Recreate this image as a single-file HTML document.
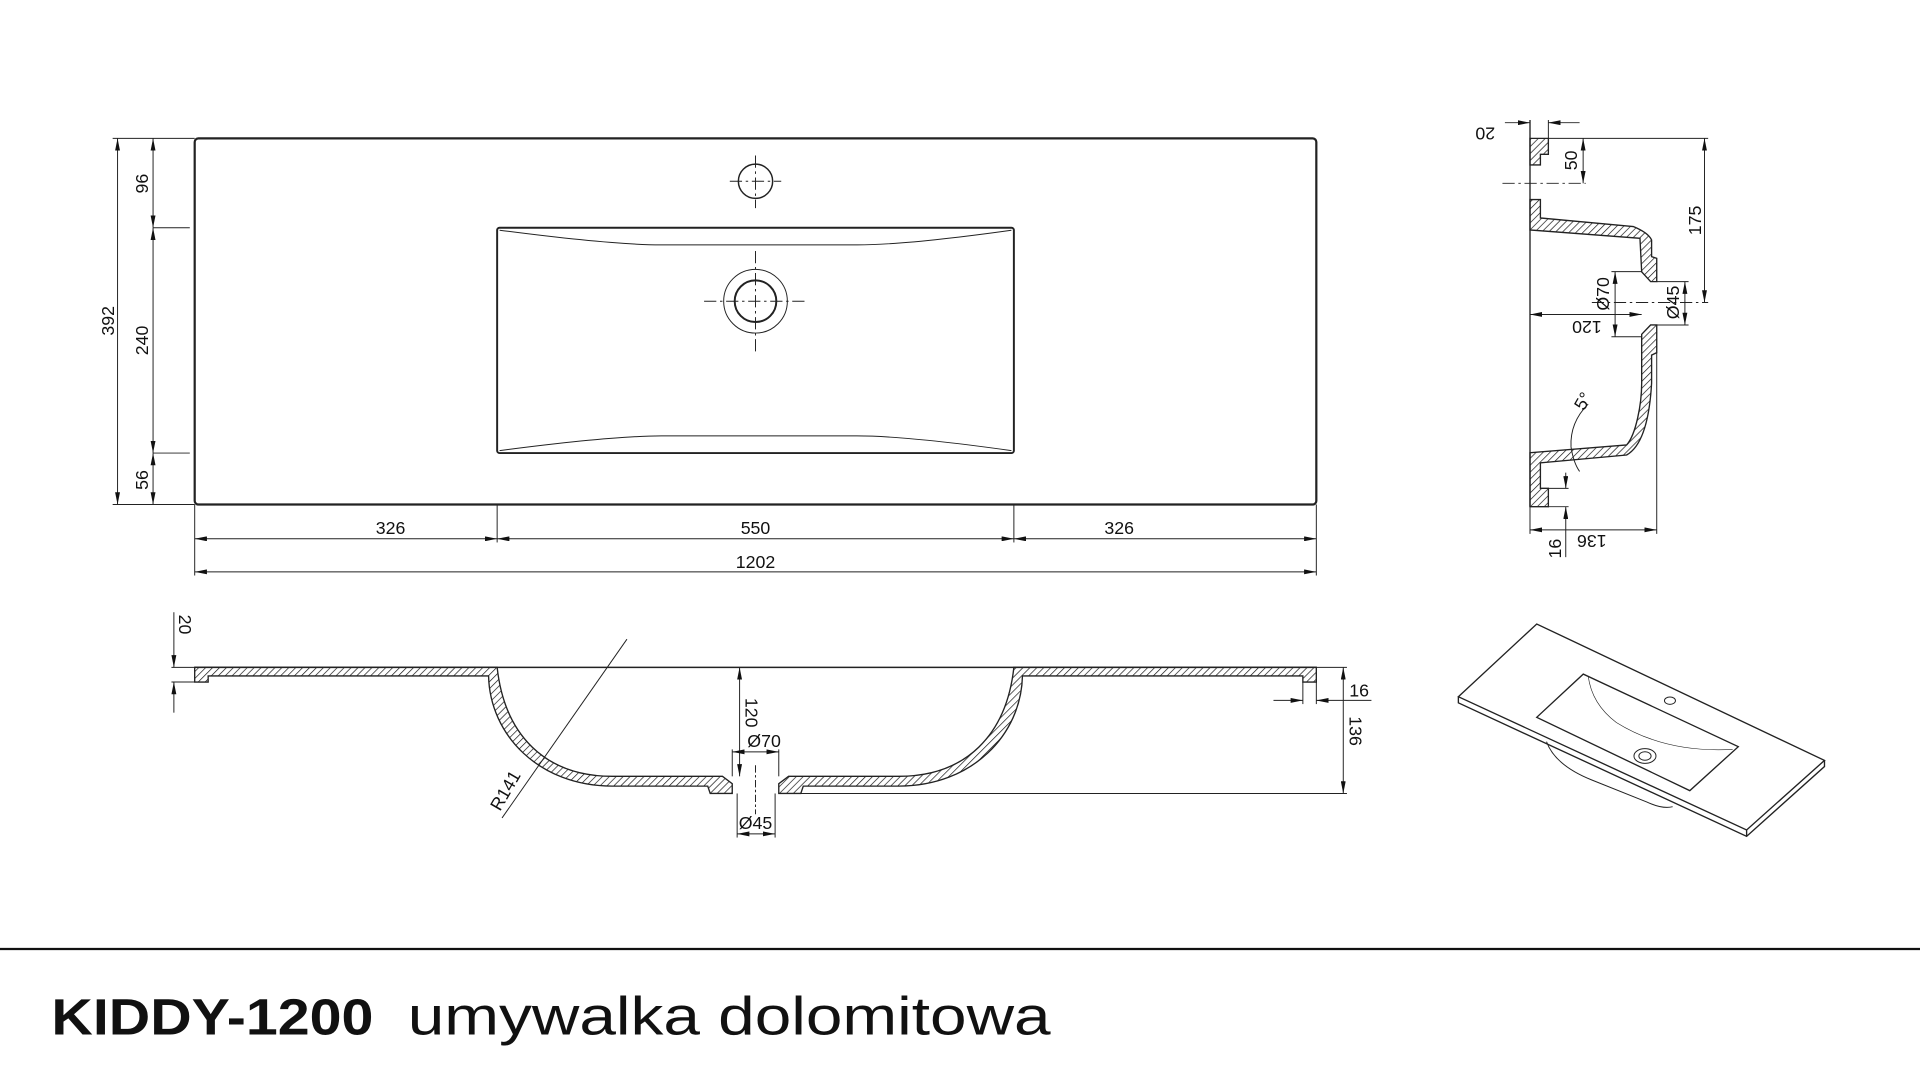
<!DOCTYPE html>
<html><head><meta charset="utf-8"><style>
html,body{margin:0;padding:0;background:#fff;overflow:hidden}
svg{display:block}
text{font-family:"Liberation Sans",sans-serif;fill:#111}
</style></head><body>
<svg width="1920" height="1080" viewBox="0 0 1568 882" xmlns="http://www.w3.org/2000/svg">
<defs>
<pattern id="h" patternUnits="userSpaceOnUse" width="4" height="4" patternTransform="rotate(45)">
<rect width="4" height="4" fill="#fff"/><line x1="0" y1="0" x2="0" y2="4" stroke="#111" stroke-width="1.1"/></pattern>
<marker id="a" viewBox="0 0 10 4" refX="10" refY="2" markerWidth="10" markerHeight="4" orient="auto-start-reverse" markerUnits="userSpaceOnUse"><path d="M0,0 L10,2 L0,4z" fill="#111"/></marker>
</defs>
<g fill="none" stroke="#222" stroke-width="0.8">
<!-- top view -->
<rect x="159" y="113" width="916" height="299" rx="3" stroke-width="1.8"/>
<rect x="406" y="186" width="422" height="184" rx="2" stroke-width="1.6"/>
<path d="M408,188 Q500,200 540,200 L700,200 Q740,200 826,188"/>
<path d="M408,368 Q500,356 540,356 L700,356 Q740,356 826,368"/>
<circle cx="617" cy="148" r="14" stroke-width="1.2"/>
<circle cx="617" cy="246" r="26"/>
<circle cx="617" cy="246" r="17" stroke-width="1.6"/>
<g stroke-dasharray="10,3,2,3">
<line x1="617" y1="127" x2="617" y2="170"/><line x1="596" y1="148" x2="638" y2="148"/>
<line x1="617" y1="205" x2="617" y2="288"/><line x1="575" y1="246" x2="659" y2="246"/>
</g>
<!-- left dims -->
<line x1="92" y1="113" x2="159" y2="113"/><line x1="92" y1="412" x2="159" y2="412"/>
<line x1="125" y1="186" x2="155" y2="186"/><line x1="125" y1="370" x2="155" y2="370"/>
<line x1="96" y1="113" x2="96" y2="412" marker-start="url(#a)" marker-end="url(#a)"/>
<line x1="125" y1="113" x2="125" y2="186" marker-start="url(#a)" marker-end="url(#a)"/>
<line x1="125" y1="186" x2="125" y2="370" marker-start="url(#a)" marker-end="url(#a)"/>
<line x1="125" y1="370" x2="125" y2="412" marker-start="url(#a)" marker-end="url(#a)"/>
<!-- bottom dims -->
<line x1="159" y1="412" x2="159" y2="470"/><line x1="1075" y1="412" x2="1075" y2="470"/>
<line x1="406" y1="412" x2="406" y2="443"/><line x1="828" y1="412" x2="828" y2="443"/>
<line x1="159" y1="440" x2="406" y2="440" marker-start="url(#a)" marker-end="url(#a)"/>
<line x1="406" y1="440" x2="828" y2="440" marker-start="url(#a)" marker-end="url(#a)"/>
<line x1="828" y1="440" x2="1075" y2="440" marker-start="url(#a)" marker-end="url(#a)"/>
<line x1="159" y1="467" x2="1075" y2="467" marker-start="url(#a)" marker-end="url(#a)"/>

<!-- front section -->
<path fill="url(#h)" stroke-width="1.1" d="M159,545 L406,545 C412,600 445,634 500,634 L590,634 L598,640 L598,648 L580,648 L578,642 L500,642 C440,642 400,600 399,552 L170,552 L170,557 L159,557 Z"/>
<path fill="url(#h)" stroke-width="1.1" d="M1075,545 L828,545 C822,600 789,634 734,634 L644,634 L636,640 L636,648 L654,648 L656,642 L734,642 C794,642 834,600 835,552 L1064,552 L1064,557 L1075,557 Z"/>
<line x1="159" y1="545" x2="1075" y2="545" stroke-width="1.2"/>
<line x1="654" y1="648" x2="1100" y2="648"/>
<line x1="1075" y1="545" x2="1100" y2="545"/>
<line x1="1097" y1="545" x2="1097" y2="648" marker-start="url(#a)" marker-end="url(#a)"/>
<line x1="1064" y1="557" x2="1064" y2="575"/><line x1="1075" y1="557" x2="1075" y2="575"/>
<line x1="1040" y1="572" x2="1064" y2="572" marker-end="url(#a)"/>
<line x1="1120" y1="572" x2="1075" y2="572" marker-end="url(#a)"/>
<line x1="140" y1="545" x2="159" y2="545"/><line x1="140" y1="557" x2="159" y2="557"/>
<line x1="142" y1="500" x2="142" y2="545" marker-end="url(#a)"/>
<line x1="142" y1="582" x2="142" y2="557" marker-end="url(#a)"/>
<line x1="604" y1="545" x2="604" y2="634" marker-start="url(#a)" marker-end="url(#a)"/>
<line x1="598" y1="612" x2="598" y2="634"/><line x1="636" y1="612" x2="636" y2="634"/>
<line x1="598" y1="614" x2="636" y2="614" marker-start="url(#a)" marker-end="url(#a)"/>
<line x1="602" y1="648" x2="602" y2="684"/><line x1="633" y1="648" x2="633" y2="684"/>
<line x1="602" y1="681" x2="633" y2="681" marker-start="url(#a)" marker-end="url(#a)"/>
<line x1="617" y1="625" x2="617" y2="665" stroke-dasharray="6,2,2,2"/>
<line x1="512" y1="522" x2="410" y2="668"/>

<!-- side section -->
<path fill="url(#h)" stroke-width="1.1" d="M1249.5,113 L1264.5,113 L1264.5,126 L1258,126 L1258,134.7 L1249.5,134.7 Z"/>
<path fill="url(#h)" stroke-width="1.1" d="M1249.5,163 L1258,163 L1258,178 L1333.8,185 Q1346,190 1348.8,196 L1348.8,209.6 L1353,211 L1353,230 L1348,230 L1340.7,222 L1339.3,194.6 L1249.5,187.8 Z"/>
<path fill="url(#h)" stroke-width="1.1" d="M1340.7,273 L1348,265.4 L1353,265.4 L1353,288 L1348.8,290 L1348.8,313 C1347,345 1340,365 1328.4,371.6 L1258,378 L1258,398.8 L1264.5,398.8 L1264.5,413.8 L1249.5,413.8 L1249.5,369.7 L1328.4,363.4 C1336,355 1340.7,330 1340.7,313 Z"/>
<line x1="1249.5" y1="98" x2="1249.5" y2="413.8" stroke-width="1.1"/>
<line x1="1264.5" y1="98" x2="1264.5" y2="113"/>
<line x1="1229" y1="100.2" x2="1249.5" y2="100.2" marker-end="url(#a)"/>
<line x1="1290" y1="100.2" x2="1264.5" y2="100.2" marker-end="url(#a)"/>
<line x1="1264.5" y1="113" x2="1395" y2="113"/>
<line x1="1292.9" y1="113" x2="1292.9" y2="149.7" marker-start="url(#a)" marker-end="url(#a)"/>
<line x1="1227" y1="149.7" x2="1295" y2="149.7" stroke-dasharray="10,3,2,3"/>
<line x1="1392" y1="113" x2="1392" y2="247" marker-start="url(#a)" marker-end="url(#a)"/>
<line x1="1300" y1="247" x2="1395" y2="247" stroke-dasharray="10,3,2,3"/>
<line x1="1316" y1="221.8" x2="1340.7" y2="221.8"/><line x1="1316" y1="275" x2="1340.7" y2="275"/>
<line x1="1319" y1="221.8" x2="1319" y2="275" marker-start="url(#a)" marker-end="url(#a)"/>
<line x1="1353" y1="230" x2="1379" y2="230"/><line x1="1353" y1="265.4" x2="1379" y2="265.4"/>
<line x1="1376" y1="230" x2="1376" y2="265.4" marker-start="url(#a)" marker-end="url(#a)"/>
<line x1="1249.5" y1="256.8" x2="1340.7" y2="256.8" marker-start="url(#a)" marker-end="url(#a)"/>
<path d="M1297,330 Q1282,345 1283,365 Q1285,378 1290,385"/>
<line x1="1278.7" y1="386" x2="1278.7" y2="398.8" marker-end="url(#a)"/>
<line x1="1278.7" y1="455" x2="1278.7" y2="413.8" marker-end="url(#a)"/>
<line x1="1264.5" y1="398.8" x2="1281" y2="398.8"/><line x1="1264.5" y1="413.8" x2="1281" y2="413.8"/>
<line x1="1249.5" y1="413.8" x2="1249.5" y2="436"/>
<line x1="1353" y1="288" x2="1353" y2="436"/>
<line x1="1249.5" y1="432.7" x2="1353" y2="432.7" marker-start="url(#a)" marker-end="url(#a)"/>

<!-- iso view -->
<path d="M1191,569 L1255,509.6 L1490,621 L1426.4,677.8 Z" stroke-width="1.1"/>
<path d="M1191,569 L1191,574 L1426.4,683 L1490,626 L1490,621 M1426.4,677.8 L1426.4,683" stroke-width="1.1"/>
<path d="M1255,585.8 L1293,550.5 L1419.6,609.8 L1380,645.7 Z" stroke-width="1.1"/>
<path d="M1297,552 Q1300,575 1320,590 Q1360,615 1415,612" stroke-width="0.5"/>
<path d="M1263,605.7 Q1270,625 1300,637 L1345,655 Q1358,661 1366,658.8" stroke-width="0.8"/>
<ellipse cx="1343.4" cy="617.4" rx="9" ry="6"/><ellipse cx="1343.4" cy="617.4" rx="5" ry="3.5"/>
<ellipse cx="1363.8" cy="572.2" rx="4.5" ry="3"/>

<line x1="0" y1="775" x2="1568" y2="775" stroke="#111" stroke-width="1.8"/>
</g>
<g font-size="14.5">
<text x="319" y="436" text-anchor="middle">326</text>
<text x="617" y="436" text-anchor="middle">550</text>
<text x="914" y="436" text-anchor="middle">326</text>
<text x="617" y="464" text-anchor="middle">1202</text>
<text transform="translate(121,150) rotate(-90)" text-anchor="middle">96</text>
<text transform="translate(121,278) rotate(-90)" text-anchor="middle">240</text>
<text transform="translate(121,392) rotate(-90)" text-anchor="middle">56</text>
<text transform="translate(93,262) rotate(-90)" text-anchor="middle">392</text>
<text transform="translate(146,510) rotate(90)" text-anchor="middle">20</text>
<text transform="translate(609,582) rotate(90)" text-anchor="middle">120</text>
<text x="624" y="610" text-anchor="middle">Ø70</text>
<text x="617" y="677" text-anchor="middle">Ø45</text>
<text transform="translate(417,648) rotate(-60)" text-anchor="middle">R141</text>
<text x="1110" y="569" text-anchor="middle">16</text>
<text transform="translate(1102,597) rotate(90)" text-anchor="middle">136</text>
<text transform="translate(1213,104) rotate(180)" text-anchor="middle">20</text>
<text transform="translate(1288,131) rotate(-90)" text-anchor="middle">50</text>
<text transform="translate(1389,180) rotate(-90)" text-anchor="middle">175</text>
<text transform="translate(1314,240) rotate(-90)" text-anchor="middle">Ø70</text>
<text transform="translate(1371,247) rotate(-90)" text-anchor="middle">Ø45</text>
<text transform="translate(1296,262) rotate(180)" text-anchor="middle">120</text>
<text transform="translate(1297,330) rotate(-60)" text-anchor="middle">5°</text>
<text transform="translate(1275,448) rotate(-90)" text-anchor="middle">16</text>
<text transform="translate(1300,437) rotate(180)" text-anchor="middle">136</text>
</g>
<text x="42" y="845" font-size="42" font-weight="bold" textLength="263" lengthAdjust="spacingAndGlyphs">KIDDY-1200</text>
<text x="333" y="845" font-size="44" textLength="525" lengthAdjust="spacingAndGlyphs">umywalka dolomitowa</text>
</svg>
</body></html>
